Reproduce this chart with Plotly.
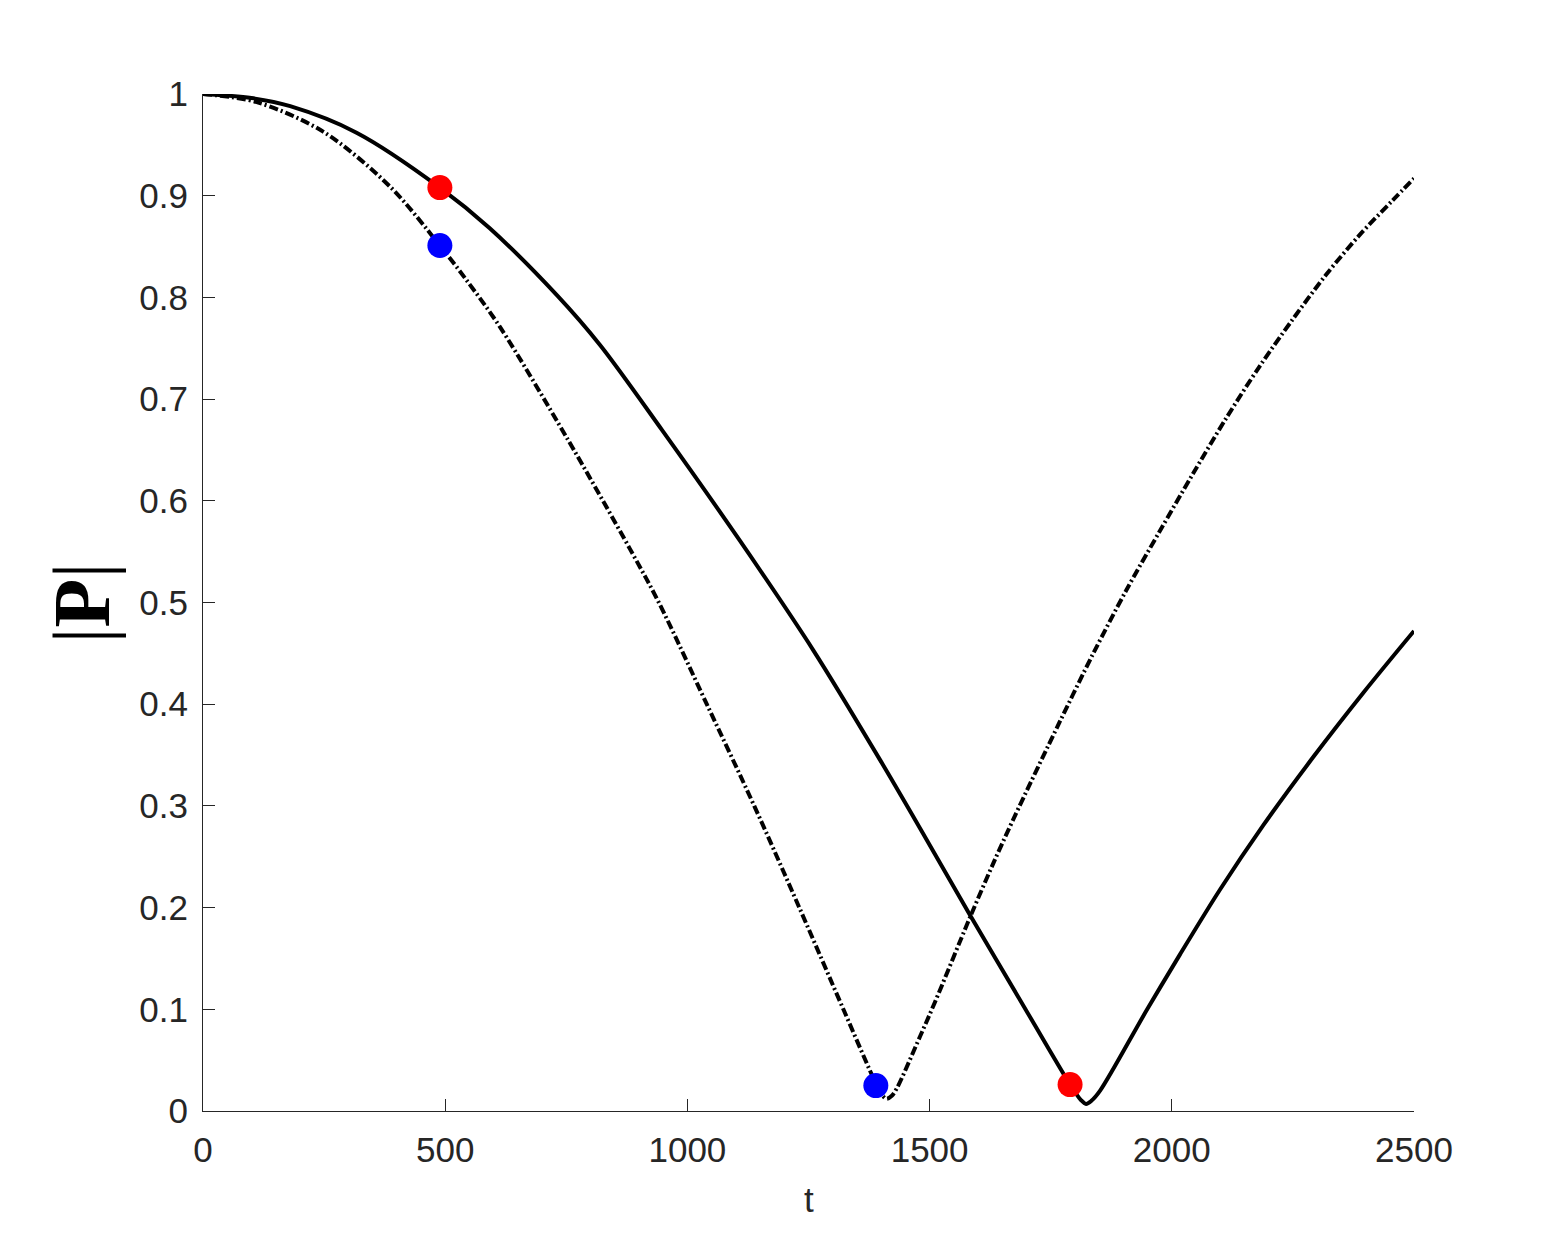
import plotly.graph_objects as go

# Solid curve |P|
t_solid = [0, 100, 180, 317, 489, 592, 731, 820, 947, 1108, 1260, 1398, 1490, 1583, 1687,
           1790, 1812, 1823, 1834, 1852, 1948, 2017, 2100, 2189, 2292, 2395, 2500]
p_solid = [1.000, 0.996, 0.988, 0.962, 0.908, 0.868, 0.802, 0.753, 0.670, 0.561, 0.453, 0.345, 0.270, 0.193, 0.109,
           0.026, 0.011, 0.007, 0.010, 0.020, 0.099, 0.154, 0.218, 0.281, 0.348, 0.411, 0.472]

# Dash-dot curve |P|
t_dash = [0, 111, 248, 386, 489, 544, 613, 751, 881, 941, 1040, 1138, 1231, 1322,
          1389, 1400, 1411, 1422, 1432, 1480, 1511, 1583, 1631, 1673, 1769, 1838, 1906,
          1975, 2043, 2112, 2181, 2249, 2318, 2387, 2455, 2500]
p_dash = [1.000, 0.992, 0.963, 0.909, 0.851, 0.817, 0.771, 0.662, 0.553, 0.500, 0.400, 0.300, 0.200, 0.100,
          0.027, 0.017, 0.012, 0.015, 0.022, 0.073, 0.107, 0.190, 0.243, 0.287, 0.383, 0.450, 0.512,
          0.570, 0.626, 0.681, 0.732, 0.778, 0.822, 0.861, 0.895, 0.917]

# Highlighted points
t_red = [489, 1790]
p_red = [0.908, 0.026]
t_blue = [489, 1389]
p_blue = [0.851, 0.025]

x_ticks = [0, 500, 1000, 1500, 2000, 2500]
y_ticks = [0, 0.1, 0.2, 0.3, 0.4, 0.5, 0.6, 0.7, 0.8, 0.9, 1]

axis_col = "#262626"
tick_font = dict(family="Liberation Sans, Arial, sans-serif", size=35, color=axis_col)

fig = go.Figure()
fig.add_trace(go.Scatter(x=t_solid, y=p_solid, mode="lines",
                         line=dict(color="black", width=4, shape="spline", smoothing=0.9),
                         showlegend=False, hoverinfo="skip"))
fig.add_trace(go.Scatter(x=t_dash, y=p_dash, mode="lines",
                         line=dict(color="black", width=4, dash="9px,3px,2px,3px",
                                   shape="spline", smoothing=0.9),
                         showlegend=False, hoverinfo="skip"))
fig.add_trace(go.Scatter(x=t_red, y=p_red, mode="markers",
                         marker=dict(color="#ff0000", size=25, line=dict(width=0)),
                         showlegend=False))
fig.add_trace(go.Scatter(x=t_blue, y=p_blue, mode="markers",
                         marker=dict(color="#0000ff", size=25, line=dict(width=0)),
                         showlegend=False))

fig.update_layout(
    width=1563, height=1250,
    margin=dict(l=195, r=157, t=86, b=147),
    paper_bgcolor="white", plot_bgcolor="white",
    xaxis=dict(range=[0, 2500], tickvals=x_ticks, ticktext=[str(v) for v in x_ticks],
               showgrid=False, zeroline=False, showline=True, linecolor=axis_col, linewidth=1,
               ticks="inside", ticklen=12, tickwidth=1, tickcolor=axis_col,
               tickfont=tick_font, ticklabelstandoff=8),
    yaxis=dict(range=[0, 1], tickvals=y_ticks, ticktext=[("%g" % v) for v in y_ticks],
               showgrid=False, zeroline=False, showline=True, linecolor=axis_col, linewidth=1,
               ticks="inside", ticklen=12, tickwidth=1, tickcolor=axis_col,
               tickfont=tick_font, ticklabelstandoff=7),
    annotations=[
        dict(text="t", xref="paper", yref="paper", x=0.5, y=-0.0875, xanchor="center",
             yanchor="middle", showarrow=False,
             font=dict(family="Liberation Sans, Arial, sans-serif", size=35, color=axis_col)),
        dict(text="|<b>P</b>|", xref="paper", yref="paper", x=-0.1, y=0.5,
             xanchor="center", yanchor="middle", textangle=-90, showarrow=False,
             font=dict(family="Liberation Serif, DejaVu Serif, serif", size=80, color="black")),
    ],
)

fig.write_html("out.html")
